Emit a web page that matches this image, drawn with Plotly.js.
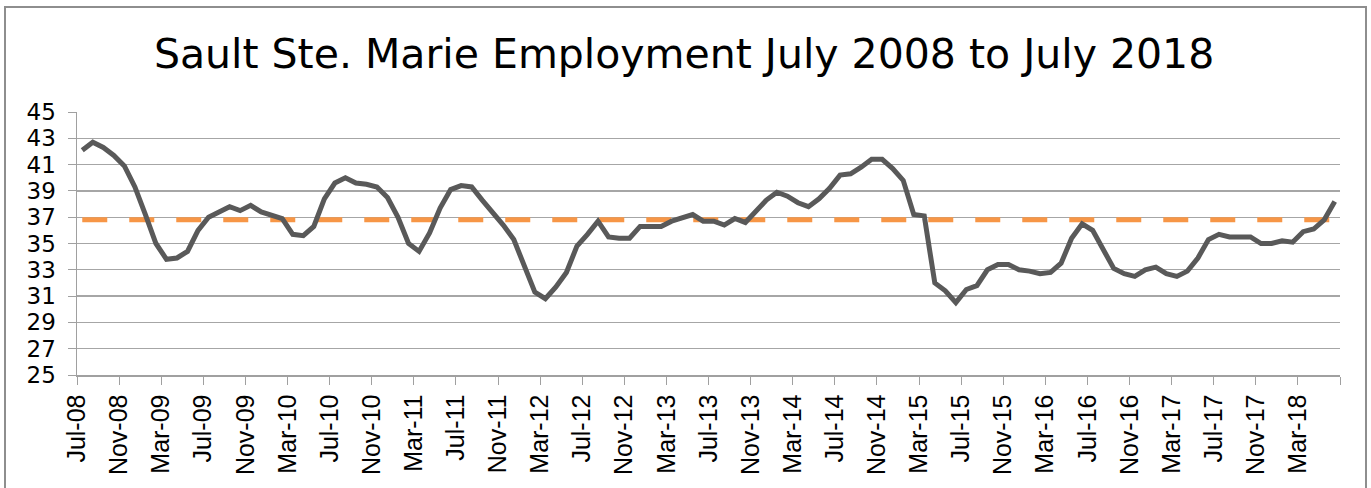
<!DOCTYPE html>
<html>
<head>
<meta charset="utf-8">
<script src="https://cdn.plot.ly/plotly-3.0.1.min.js"></script>
<style>
  html, body { margin: 0; padding: 0; background: #ffffff; overflow: hidden; }
  #wrap { position: relative; width: 1371px; height: 488px; }
  #chart { position: absolute; left: 0; top: 0; width: 1371px; height: 488px; }
  #frame { position: absolute; left: 4px; top: 6px; width: 1359px; height: 500px;
           border: 2px solid #8e8e8e; pointer-events: none; }
</style>
</head>
<body>
<div id="wrap">
  <div id="chart"></div>
  <div id="frame"></div>
</div>
<script>
// Monthly employment (thousands), Jul-08 .. Jun-18
const employment = [
  42.1, 42.7, 42.3, 41.7, 40.9, 39.3, 37.2, 35.0, 33.8, 33.9, 34.4, 36.0,
  37.0, 37.4, 37.8, 37.5, 37.9, 37.4, 37.1, 36.9, 35.7, 35.6, 36.3, 38.4,
  39.6, 40.0, 39.6, 39.5, 39.3, 38.5, 37.0, 35.0, 34.4, 35.8, 37.7, 39.1,
  39.4, 39.3, 38.3, 37.4, 36.4, 35.3, 33.2, 31.3, 30.8, 31.7, 32.8, 34.8,
  35.7, 36.7, 35.5, 35.4, 35.4, 36.3, 36.3, 36.3, 36.7, 37.0, 37.2, 36.7,
  36.7, 36.4, 36.9, 36.6, 37.5, 38.3, 38.9, 38.6, 38.1, 37.8, 38.4, 39.2,
  40.2, 40.3, 40.8, 41.4, 41.4, 40.7, 39.8, 37.2, 37.1, 32.0, 31.4, 30.5,
  31.5, 31.8, 33.0, 33.4, 33.4, 33.0, 32.9, 32.7, 32.8, 33.5, 35.4, 36.5,
  36.0, 34.6, 33.1, 32.7, 32.5, 33.0, 33.2, 32.7, 32.5, 32.9, 33.9, 35.3,
  35.7, 35.5, 35.5, 35.5, 35.0, 35.0, 35.2, 35.1, 35.9, 36.1, 36.8, 38.2
];
const averageEmployment = 36.8;
const tickLabels = [
  'Jul-08','Nov-08','Mar-09','Jul-09','Nov-09','Mar-10','Jul-10','Nov-10',
  'Mar-11','Jul-11','Nov-11','Mar-12','Jul-12','Nov-12','Mar-13','Jul-13',
  'Nov-13','Mar-14','Jul-14','Nov-14','Mar-15','Jul-15','Nov-15','Mar-16',
  'Jul-16','Nov-16','Mar-17','Jul-17','Nov-17','Mar-18'
];
const yTicks = [25, 27, 29, 31, 33, 35, 37, 39, 41, 43, 45];
const monthsPerTick = 4;

// month slots: point i sits in the middle of month slot i
const xPos = employment.map((v, i) => i + 0.5);
const tickVals = tickLabels.map((t, k) => k * monthsPerTick);
tickVals.push(employment.length);
const tickText = tickLabels.concat(['']);

const traces = [
  {
    x: [xPos[0], xPos[xPos.length - 1]],
    y: [averageEmployment, averageEmployment],
    mode: 'lines',
    line: { color: '#F79646', width: 5, dash: '25px,22px' },
    hoverinfo: 'skip'
  },
  {
    x: xPos,
    y: employment,
    mode: 'lines',
    line: { color: '#595959', width: 5, shape: 'linear' },
    hoverinfo: 'y'
  }
];

const layout = {
  width: 1371,
  height: 488,
  margin: { l: 77, r: 31, t: 112, b: 113, pad: 0 },
  paper_bgcolor: '#ffffff',
  plot_bgcolor: '#ffffff',
  showlegend: false,
  title: {
    text: 'Sault Ste. Marie Employment July 2008 to July 2018',
    font: { family: 'DejaVu Sans', size: 41, color: '#000000' },
    x: 0.499, xref: 'container', xanchor: 'center',
    y: 1 - 54 / 488, yref: 'container', yanchor: 'middle'
  },
  xaxis: {
    range: [0, employment.length],
    tickmode: 'array',
    tickvals: tickVals,
    ticktext: tickText,
    tickangle: -90,
    ticks: 'outside',
    ticklen: 8,
    tickwidth: 1,
    tickcolor: '#a0a0a0',
    showgrid: false,
    zeroline: false,
    showline: true,
    linecolor: '#a0a0a0',
    linewidth: 1.5,
    tickfont: { family: 'Liberation Sans', size: 25, color: '#000000' },
    fixedrange: true
  },
  yaxis: {
    range: [25, 45],
    tickmode: 'array',
    tickvals: yTicks,
    ticks: 'outside',
    ticklen: 8,
    tickwidth: 1,
    tickcolor: '#a0a0a0',
    showgrid: true,
    gridcolor: '#a6a6a6',
    gridwidth: 1.3,
    zeroline: false,
    showline: true,
    linecolor: '#a0a0a0',
    linewidth: 1.5,
    ticklabelstandoff: 7,
    tickfont: { family: 'DejaVu Sans', size: 23, color: '#000000' },
    fixedrange: true
  }
};

Plotly.newPlot('chart', traces, layout, { displayModeBar: false, staticPlot: true });
</script>
</body>
</html>
